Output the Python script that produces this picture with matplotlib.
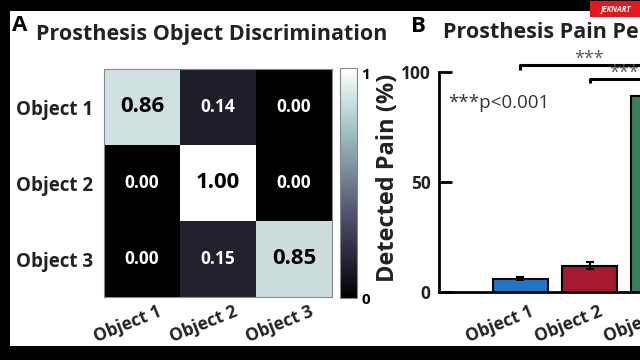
import matplotlib.pyplot as plt
import numpy as np
from matplotlib.patches import Rectangle
from matplotlib.transforms import ScaledTranslation

plt.rcParams["font.family"] = ["Open Sans", "DejaVu Sans"]

objects = ["Object 1", "Object 2", "Object 3"]
confusion = np.array([
    [0.86, 0.14, 0.00],
    [0.00, 1.00, 0.00],
    [0.00, 0.15, 0.85],
])
pain_mean = [6.0, 12.0, 89.0]
pain_err = [0.6, 1.6, 1.5]
bar_colors = ["#1f77c9", "#a6192e", "#3b7d5e"]

W, H = 640, 360


def fx(px):
    return px / W


def fy(py):
    return 1 - py / H


fig = plt.figure(figsize=(6.4, 3.6), dpi=100, facecolor="black")

# white panel inside the black screen border
fig.patches.append(Rectangle((fx(10), fy(346)), 1 - fx(10), fy(11) - fy(346),
                             transform=fig.transFigure, facecolor="white",
                             edgecolor="none", zorder=-10))
# red watermark box
fig.patches.append(Rectangle((fx(590), fy(17)), fx(50), fy(1) - fy(17),
                             transform=fig.transFigure, facecolor="#e8161b",
                             edgecolor="none", zorder=5))
fig.text(fx(615), fy(9), "JEKNART", color="white", fontsize=5.5, style="italic",
         fontweight="bold", ha="center", va="center", zorder=6)

# panel letters and titles
fig.text(fx(12), fy(31), "A", fontsize=16, fontweight="bold", va="baseline")
fig.text(fx(212), fy(40), "Prosthesis Object Discrimination", fontsize=15.5,
         fontweight="bold", ha="center", va="baseline", color="#222222")
fig.text(fx(411), fy(32), "B", fontsize=16, fontweight="bold", va="baseline")
fig.text(fx(443), fy(38), "Prosthesis Pain Perception", fontsize=15.5,
         fontweight="bold", ha="left", va="baseline", color="#222222")

# ---- panel A: confusion matrix ----
ax = fig.add_axes([fx(104), fy(297), fx(332) - fx(104), fy(69) - fy(297)])
im = ax.imshow(confusion, cmap="bone", vmin=0, vmax=1, aspect="auto")
for i in range(3):
    for j in range(3):
        v = confusion[i, j]
        if v > 0.5:
            ax.text(j, i, f"{v:.2f}", ha="center", va="center", color="black",
                    fontsize=16, fontweight="bold")
        else:
            ax.text(j, i, f"{v:.2f}", ha="center", va="center", color="white",
                    fontsize=12.5, fontweight="bold")
ax.set_xticks(range(3))
ax.set_yticks(range(3))
ax.tick_params(axis="x", length=0, pad=4)
ax.tick_params(axis="y", length=0, pad=8)
ax.set_yticklabels(objects, fontsize=13.5, fontweight="bold", color="#222222")
ax.set_xticklabels(objects, fontsize=12.5, fontweight="bold", color="#222222",
                   rotation=22, ha="right", rotation_mode="anchor")
shift = ScaledTranslation(15 / 100, 0, fig.dpi_scale_trans)
for lab in ax.get_xticklabels():
    lab.set_transform(lab.get_transform() + shift)
for s in ax.spines.values():
    s.set_color("#888888")
    s.set_linewidth(0.8)

cax = fig.add_axes([fx(340), fy(298), fx(357) - fx(340), fy(68) - fy(298)])
cb = fig.colorbar(im, cax=cax)
cb.set_ticks([0, 1])
cb.set_ticklabels(["0", "1"])
cax.tick_params(length=0, pad=3, labelsize=11)
for lab in cax.get_yticklabels():
    lab.set_fontweight("bold")
cax.get_yticklabels()[1].set_va("top")
cb.outline.set_edgecolor("#888888")
cb.outline.set_linewidth(0.8)

# ---- panel B: detected pain bars ----
bx = fig.add_axes([fx(439), fy(292), 261 / W, fy(72) - fy(292)])
x = np.arange(3)
bx.bar(x, pain_mean, width=0.8, color=bar_colors, edgecolor="black",
       linewidth=1.5, zorder=2)
bx.errorbar(x, pain_mean, yerr=pain_err, fmt="none", ecolor="black",
            elinewidth=1.5, capsize=3, capthick=1.5, zorder=3)
bx.set_xlim(-1.18, 2.6)
bx.set_ylim(0, 100)
bx.set_yticks([0, 50, 100])
bx.set_xticks(x)
bx.tick_params(axis="y", direction="in", length=9, width=2, pad=6)
bx.tick_params(axis="x", length=0, pad=8)
bx.set_yticklabels(["0", "50", "100"], fontsize=12.5, fontweight="bold",
                   color="#222222")
bx.set_xticklabels(objects, fontsize=12.5, fontweight="bold", color="#222222",
                   rotation=22, ha="right", rotation_mode="anchor")
shift_b = ScaledTranslation(8.5 / 100, 0, fig.dpi_scale_trans)
for lab in bx.get_xticklabels():
    lab.set_transform(lab.get_transform() + shift_b)
for side in ["top", "right"]:
    bx.spines[side].set_visible(False)
for side in ["left", "bottom"]:
    bx.spines[side].set_linewidth(2)
bx.set_ylabel("Detected Pain (%)", fontsize=17, fontweight="bold",
              color="#222222")
bx.yaxis.set_label_coords(-0.15, 0.52)

# significance brackets
brackets = [(0, 2, 103.2, 101.0), (1, 2, 96.8, 94.8)]
for a, b, top, low in brackets:
    bx.plot([x[a], x[a], x[b], x[b]], [low, top, top, low], color="black",
            linewidth=2.2, clip_on=False, solid_capstyle="butt")
    bx.text((x[a] + x[b]) / 2, top + 0.5, "***", ha="center", va="baseline",
            fontsize=13, color="#555555", clip_on=False)

bx.text(-1.04, 83.6, "***p<0.001", fontsize=13.5, color="#333333",
        va="baseline")

fig.savefig("out.png", dpi=100, facecolor=fig.get_facecolor())
